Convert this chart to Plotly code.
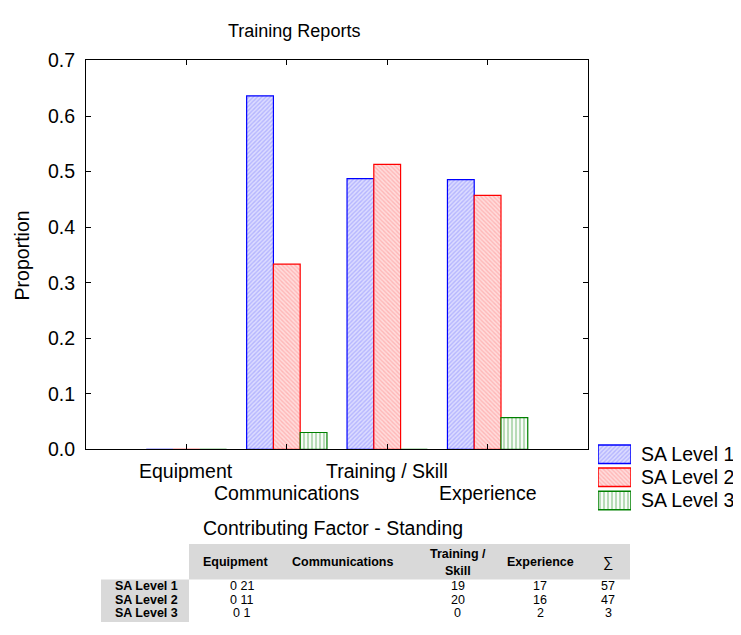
import plotly.graph_objects as go

categories = ["Equipment", "Communications", "Training / Skill", "Experience"]
series_names = ["SA Level 1", "SA Level 2", "SA Level 3"]
counts_sa1 = [0, 21, 19, 17]
counts_sa2 = [0, 11, 20, 16]
counts_sa3 = [0, 1, 0, 2]
y_ticks = [0.0, 0.1, 0.2, 0.3, 0.4, 0.5, 0.6, 0.7]

counts = [counts_sa1, counts_sa2, counts_sa3]
col_tot = [sum(c[i] for c in counts) for i in range(len(categories))]
props = [[(c[i] / col_tot[i]) if col_tot[i] else 0 for i in range(len(categories))] for c in counts]

# page body has an 8px margin: figure occupies 8..741 x 8..635 of the window
OFF = 8
W, H = 741 - OFF, 635 - OFF
def px(x): return (x - OFF) / W
def py(y): return 1 - (y - OFF) / H

styles = [
    dict(line="#0000ff", pat=dict(shape="/", fgcolor="#8c8cff", bgcolor="#dcdcff", size=3, solidity=0.45)),
    dict(line="#ff0000", pat=dict(shape="\\", fgcolor="#ff9090", bgcolor="#ffdcdc", size=3, solidity=0.45)),
    dict(line="#008000", pat=dict(shape="|", fgcolor="#70b870", bgcolor="#ffffff", size=4, solidity=0.55)),
]

fig = go.Figure()
for name, vals, st in zip(series_names, props, styles):
    fig.add_trace(go.Bar(
        x=categories, y=vals, name=name,
        marker=dict(color=st["pat"]["bgcolor"], pattern=st["pat"],
                    line=dict(color=st["line"], width=1.2)),
        showlegend=False,
    ))

# legend boxes drawn as bars on an auxiliary axis
for name, st in zip(series_names, styles):
    fig.add_trace(go.Bar(
        x=[1], y=[name], orientation="h", xaxis="x2", yaxis="y2",
        marker=dict(color=st["pat"]["bgcolor"], pattern=st["pat"],
                    line=dict(color=st["line"], width=1.5)),
        showlegend=False, width=0.8,
    ))

font = "Arial, Liberation Sans, sans-serif"
FS = 19.5
fig.update_layout(
    width=W, height=H,
    margin=dict(l=0, r=0, t=0, b=0),
    paper_bgcolor="white", plot_bgcolor="white",
    barmode="group", bargap=0.2, bargroupgap=0,
    font=dict(family=font, color="black"),
    xaxis=dict(
        domain=[px(86), px(588)], type="category", range=[-1, 4],
        categoryorder="array", categoryarray=categories,
        showticklabels=False, ticks="inside", ticklen=5, tickcolor="black",
        showline=True, linecolor="black", linewidth=1, mirror="ticks",
        showgrid=False, zeroline=False, fixedrange=True,
    ),
    yaxis=dict(
        domain=[py(454), py(51)], range=[0, 0.7], tickvals=y_ticks,
        tickformat=".1f", ticks="inside", ticklen=5, tickcolor="black",
        showline=True, linecolor="black", linewidth=1, mirror="ticks",
        showgrid=False, zeroline=False, tickfont=dict(size=FS),
        ticklabelstandoff=6,
    ),
    xaxis2=dict(domain=[px(598), px(631)], range=[0, 1], visible=False, anchor="y2"),
    yaxis2=dict(domain=[py(519), py(447)], visible=False, anchor="x2",
                categoryorder="array", categoryarray=series_names[::-1]),
)

ann = []
ann.append(dict(text="Training Reports", x=px(294), y=py(20), font=dict(size=18)))
ann.append(dict(text="Proportion", x=px(22), y=py(253), textangle=-90, font=dict(size=FS)))
for i, c in enumerate(categories):
    yy = 476 if i % 2 == 0 else 499
    ann.append(dict(text=c, x=c, xref="x", y=py(yy), font=dict(size=FS)))
leg_y = [459, 483, 507]
for name, yy in zip(series_names, leg_y):
    ann.append(dict(text=name, x=px(640), y=py(yy), xanchor="left", font=dict(size=FS)))

ann.append(dict(text="Contributing Factor - Standing", x=px(333), y=py(536), font=dict(size=FS)))

# table
TF = 12.5
header_x = [236, 342, 458, 540, 608]
header_txt = ["Equipment", "Communications", None, "Experience", "∑"]
for hx, ht in zip(header_x, header_txt):
    if ht is None:
        ann.append(dict(text="<b>Training /</b>", x=px(hx), y=py(562), font=dict(size=TF)))
        ann.append(dict(text="<b>Skill</b>", x=px(hx), y=py(580), font=dict(size=TF)))
    else:
        ann.append(dict(text=("<b>" + ht + "</b>") if ht != "∑" else ht, x=px(hx), y=py(571),
                        font=dict(size=TF + (2 if ht == "∑" else 0))))
row_y = [596, 610, 624]
for name, c, ry in zip(series_names, counts, row_y):
    ann.append(dict(text="<b>" + name + "</b>", x=px(146), y=py(ry), font=dict(size=TF)))
    cells = [f"{c[0]} {c[1]}", "", str(c[2]), str(c[3]), str(sum(c))]
    for hx, t in zip(header_x, cells):
        if t:
            xx = hx if hx != 236 else 242
            ann.append(dict(text=t, x=px(xx), y=py(ry), font=dict(size=TF)))

for a in ann:
    a.setdefault("xref", "paper")
    a["yref"] = "paper"
    a["showarrow"] = False
    a.setdefault("xanchor", "center")
    a["yanchor"] = "middle"
    a["borderpad"] = 0
fig.update_layout(annotations=ann)

shapes = [
    dict(type="rect", xref="paper", yref="paper", x0=px(189), x1=px(630), y0=py(589), y1=py(552),
         fillcolor="#d9d9d9", line=dict(width=0), layer="below"),
    dict(type="rect", xref="paper", yref="paper", x0=px(101), x1=px(189), y0=py(633), y1=py(589),
         fillcolor="#d9d9d9", line=dict(width=0), layer="below"),
]
fig.update_layout(shapes=shapes)

fig.write_html("out.html")
